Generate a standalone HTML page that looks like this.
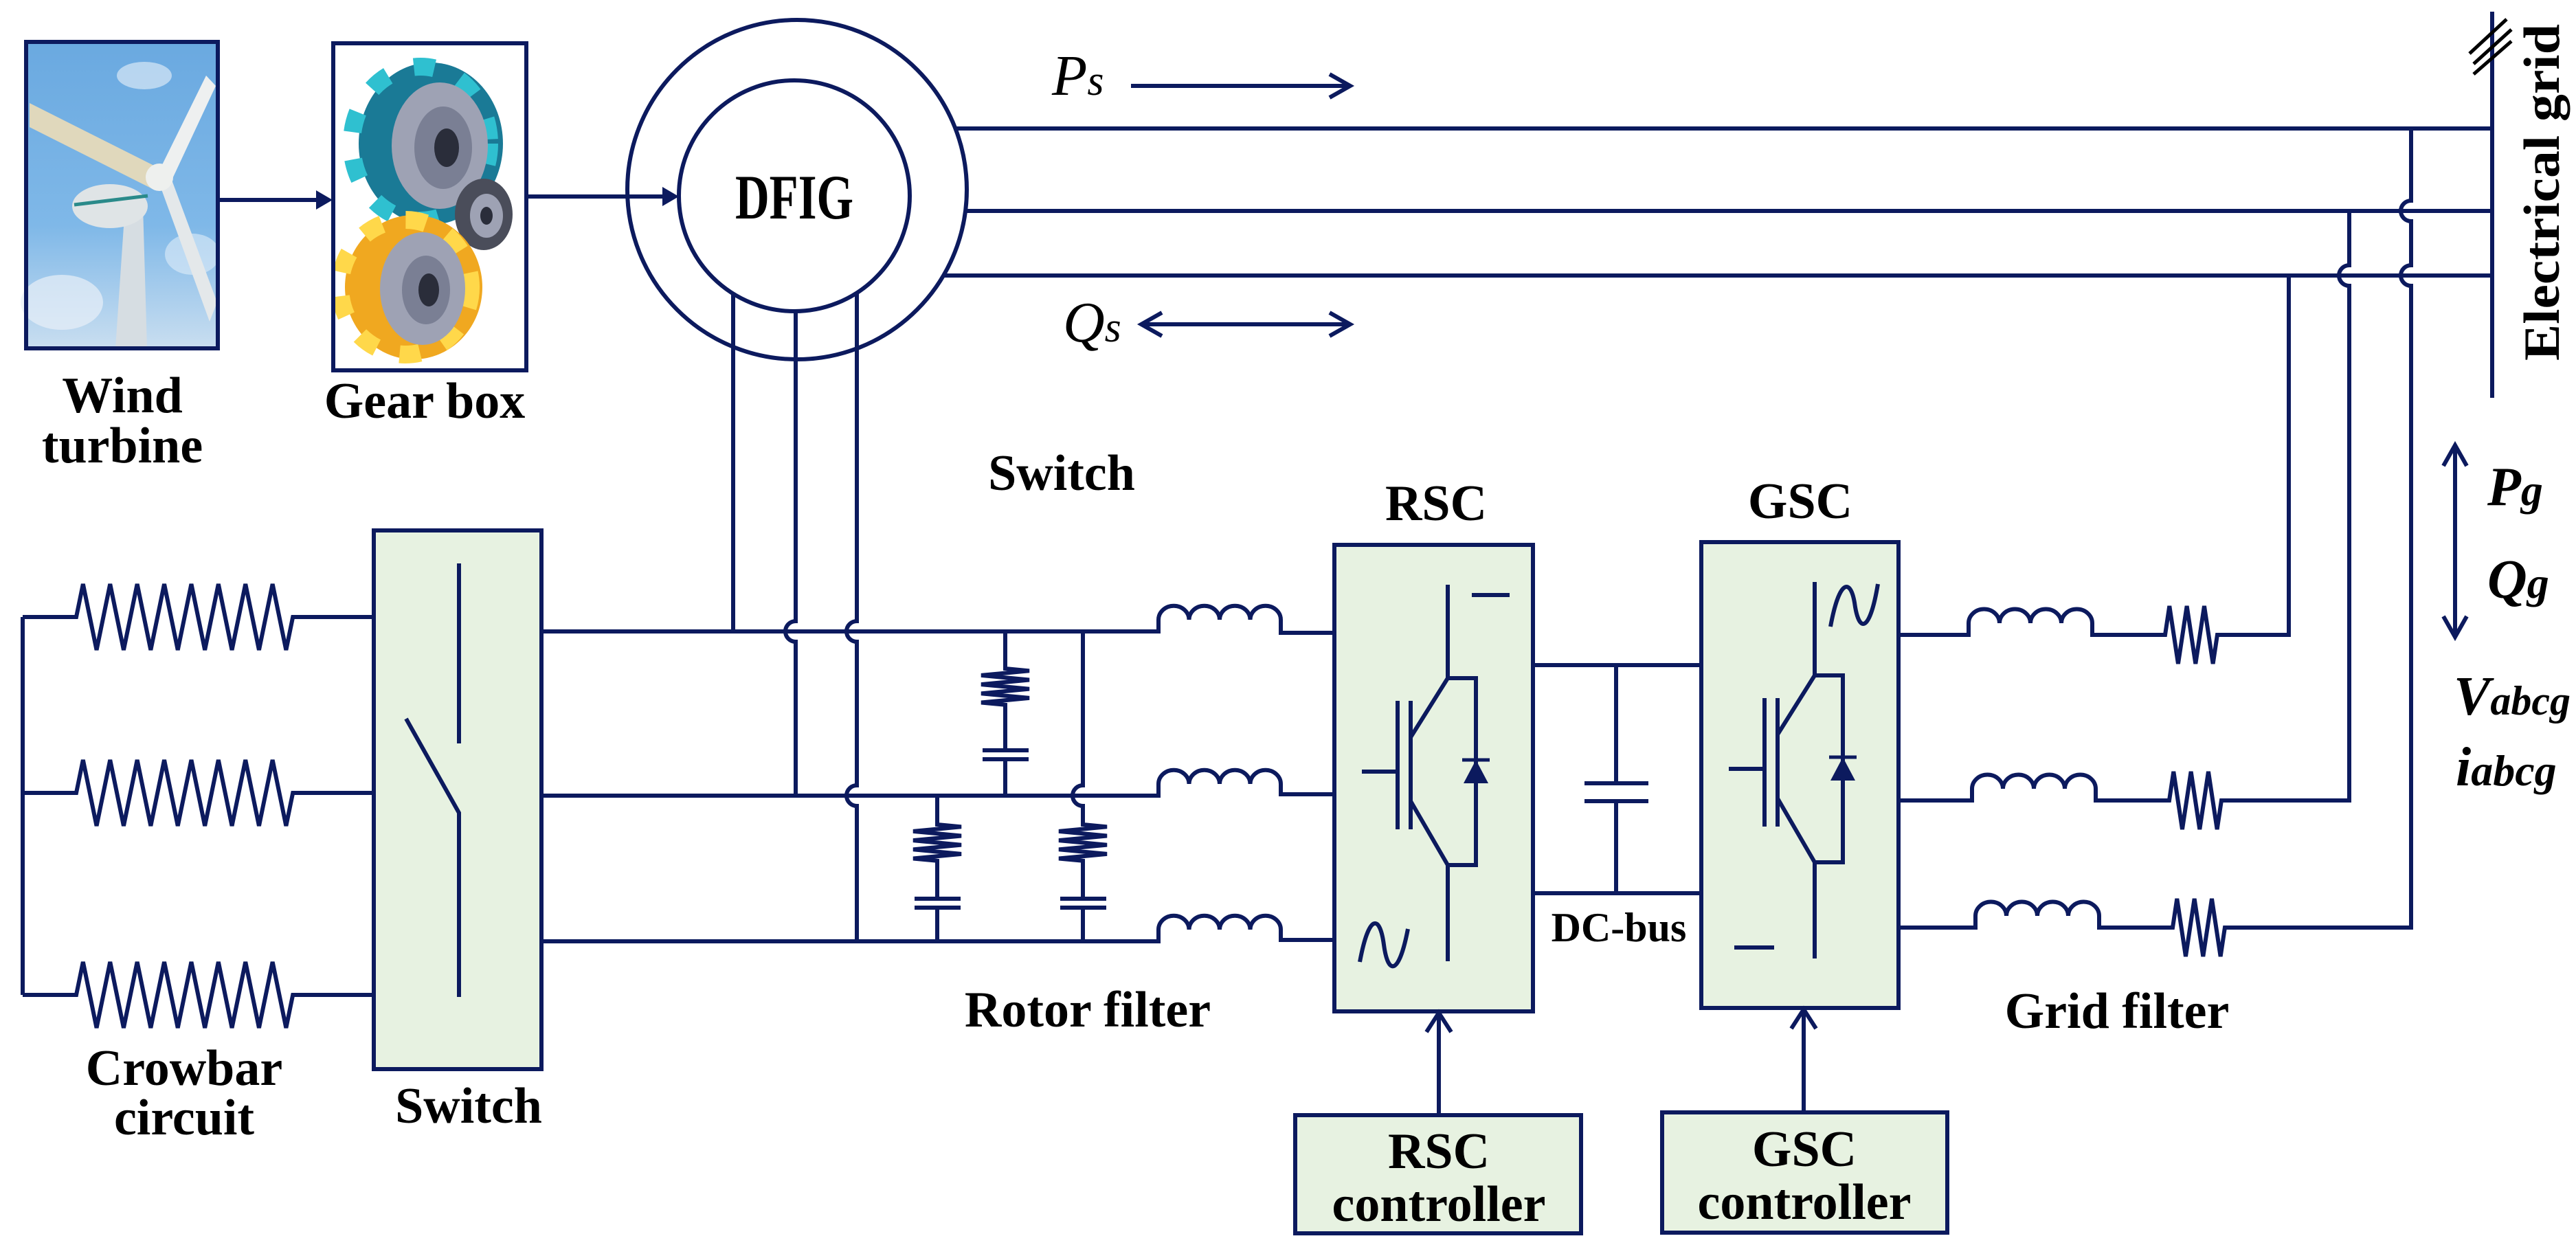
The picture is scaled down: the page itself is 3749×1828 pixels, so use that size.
<!DOCTYPE html>
<html><head><meta charset="utf-8"><style>
html,body{margin:0;padding:0;background:#fff;}
svg{display:block;}
text{font-family:"Liberation Serif",serif;font-weight:bold;fill:#000;}
</style></head><body>
<svg width="3749" height="1828" viewBox="0 0 3749 1828" xmlns="http://www.w3.org/2000/svg">
<defs>
<linearGradient id="sky" x1="0" y1="0" x2="0" y2="1">
<stop offset="0" stop-color="#6aa9e0"/><stop offset="0.6" stop-color="#7fb8e8"/><stop offset="1" stop-color="#c9def0"/>
</linearGradient>
</defs>
<g fill="none" stroke="#0c1a5e" stroke-width="6">

<!-- wind turbine picture -->
<rect x="38" y="61" width="279" height="446" fill="url(#sky)"/>
<g stroke="none">
<ellipse cx="210" cy="110" rx="40" ry="20" fill="#d8e8f6" opacity="0.7"/>
<ellipse cx="90" cy="440" rx="60" ry="40" fill="#e8f0f8" opacity="0.7"/>
<ellipse cx="280" cy="370" rx="40" ry="30" fill="#e0ecf8" opacity="0.6"/>
<polygon points="168,507 214,507 208,300 182,300" fill="#d6dde2"/>
<polygon points="43,150 43,185 222,275 238,248" fill="#e0d8bc"/>
<polygon points="300,110 314,125 250,262 230,252" fill="#eef0f0"/>
<polygon points="230,262 250,262 316,440 305,468" fill="#e4e8ea"/>
<ellipse cx="160" cy="300" rx="55" ry="32" fill="#dfe4e6"/>
<line x1="108" y1="298" x2="215" y2="285" stroke="#2a8a8a" stroke-width="5"/>
<circle cx="232" cy="258" r="20" fill="#eef0ee"/>
</g>
<rect x="38" y="61" width="279" height="446"/>

<!-- gear box picture -->
<rect x="485" y="63" width="281" height="476" fill="#fff"/>
<g stroke="none">
<ellipse cx="627" cy="209" rx="105" ry="118" fill="#1a7a96"/>
<ellipse cx="612" cy="209" rx="100" ry="112" fill="none" stroke="#2fc0d0" stroke-width="26" stroke-dasharray="30 40"/>
<ellipse cx="640" cy="212" rx="70" ry="92" fill="#9ea2b4"/>
<ellipse cx="645" cy="215" rx="42" ry="60" fill="#7a7f94"/>
<ellipse cx="650" cy="215" rx="18" ry="28" fill="#2a2d3a"/>
<ellipse cx="704" cy="312" rx="42" ry="52" fill="#4a4d5a"/>
<ellipse cx="708" cy="314" rx="24" ry="32" fill="#9ea2b4"/>
<ellipse cx="708" cy="314" rx="9" ry="13" fill="#2a2d3a"/>
<ellipse cx="602" cy="418" rx="100" ry="105" fill="#f0a820"/>
<ellipse cx="590" cy="418" rx="95" ry="98" fill="none" stroke="#ffd84a" stroke-width="26" stroke-dasharray="30 35"/>
<ellipse cx="615" cy="420" rx="62" ry="82" fill="#9ea2b4"/>
<ellipse cx="620" cy="422" rx="35" ry="50" fill="#7a7f94"/>
<ellipse cx="624" cy="422" rx="15" ry="24" fill="#2a2d3a"/>
</g>
<rect x="485" y="63" width="281" height="476"/>

<!-- arrows to gear and dfig -->
<line x1="317" y1="291" x2="462" y2="291"/>
<polygon points="484,291 460,277 460,305" fill="#0c1a5e" stroke="none"/>
<line x1="766" y1="286" x2="965" y2="286"/>
<polygon points="988,286 964,272 964,300" fill="#0c1a5e" stroke="none"/>

<!-- DFIG -->
<circle cx="1160" cy="276" r="247"/>
<circle cx="1156" cy="285" r="168" fill="#fff"/>

<!-- stator lines -->
<path d="M1391,187 H3627 M1405,307 H3627 M1374,401 H3627"/>
<path d="M3627,17 V579"/>
<g stroke="#000" stroke-width="5">
<line x1="3594" y1="78" x2="3648" y2="28"/>
<line x1="3600" y1="93" x2="3655" y2="43"/>
<line x1="3600" y1="108" x2="3655" y2="60"/>
</g>

<!-- Ps / Qs arrows -->
<line x1="1646" y1="125" x2="1963" y2="125"/>
<path d="M1935,108 L1965,125 L1935,142"/>
<line x1="1663" y1="472" x2="1963" y2="472"/>
<path d="M1935,455 L1965,472 L1935,489"/>
<path d="M1691,455 L1661,472 L1691,489"/>

<!-- rotor verticals -->
<path d="M1067,427 V919"/>
<path d="M1158,453 V904 a15,15 0 0 0 0,30 V1158"/>
<path d="M1247,426 V904 a15,15 0 0 0 0,30 V1143 a15,15 0 0 0 0,30 V1370"/>

<!-- rotor rows -->
<path d="M788,919 H1686 V902 a22,20 0 0 1 44.5,0 a22,20 0 0 1 44.5,0 a22,20 0 0 1 44.5,0 a22,20 0 0 1 44.5,0 V921 H1942"/>
<path d="M788,1158 H1686 V1141 a22,20 0 0 1 44.5,0 a22,20 0 0 1 44.5,0 a22,20 0 0 1 44.5,0 a22,20 0 0 1 44.5,0 V1156 H1942"/>
<path d="M788,1370 H1686 V1353 a22,20 0 0 1 44.5,0 a22,20 0 0 1 44.5,0 a22,20 0 0 1 44.5,0 a22,20 0 0 1 44.5,0 V1368 H1942"/>

<!-- rotor RC branches -->
<path d="M1463,919 V973 l35,3.3 l-70,6.6 l70,6.6 l-70,6.6 l70,6.6 l-70,6.6 l70,6.6 l-70,6.6 l35,3.3 V1092"/>
<path d="M1430,1092 H1497 M1430,1105 H1497 M1463,1105 V1158"/>
<path d="M1364,1158 V1200 l35,3.3 l-70,6.6 l70,6.6 l-70,6.6 l70,6.6 l-70,6.6 l70,6.6 l-70,6.6 l35,3.3 V1308"/>
<path d="M1331,1308 H1398 M1331,1321 H1398 M1364,1321 V1370"/>
<path d="M1576,919 V1143 a15,15 0 0 0 0,30 V1200 l35,3.3 l-70,6.6 l70,6.6 l-70,6.6 l70,6.6 l-70,6.6 l70,6.6 l-70,6.6 l35,3.3 V1308"/>
<path d="M1543,1308 H1610 M1543,1321 H1610 M1576,1321 V1370"/>

<!-- crowbar -->
<path d="M33,898 V1448"/>
<path d="M33,898 H111 l9.85,-48 l19.7,96 l19.7,-96 l19.7,96 l19.7,-96 l19.7,96 l19.7,-96 l19.7,96 l19.7,-96 l19.7,96 l19.7,-96 l19.7,96 l19.7,-96 l19.7,96 l19.7,-96 l19.7,96 l9.85,-48 H544"/>
<path d="M33,1154 H111 l9.85,-48 l19.7,96 l19.7,-96 l19.7,96 l19.7,-96 l19.7,96 l19.7,-96 l19.7,96 l19.7,-96 l19.7,96 l19.7,-96 l19.7,96 l19.7,-96 l19.7,96 l19.7,-96 l19.7,96 l9.85,-48 H544"/>
<path d="M33,1448 H111 l9.85,-48 l19.7,96 l19.7,-96 l19.7,96 l19.7,-96 l19.7,96 l19.7,-96 l19.7,96 l19.7,-96 l19.7,96 l19.7,-96 l19.7,96 l19.7,-96 l19.7,96 l19.7,-96 l19.7,96 l9.85,-48 H544"/>

<!-- switch box -->
<rect x="544" y="772" width="244" height="784" fill="#e7f2e1"/>
<path d="M668,820 V1082 M591,1046 L668,1183 V1451"/>

<!-- RSC -->
<rect x="1942" y="793" width="289" height="679" fill="#e7f2e1"/>
<g id="igbt">
<path d="M2107,851 V987 L2053,1073 M2053,1020 V1207 M2034,1020 V1207 M1982,1123 H2034 M2053,1166 L2107,1259 V1399 M2107,987 H2148 V1259 H2107"/>
<polygon points="2148,1106 2130,1140 2166,1140" fill="#0c1a5e" stroke="none"/>
<path d="M2128,1106 H2168" stroke-width="5"/>
</g>
<path d="M2142,866 H2197"/>
<path d="M1979,1400 C1992,1330 2008,1330 2014,1375 C2020,1420 2036,1420 2049,1352"/>

<!-- GSC -->
<rect x="2476" y="789" width="287" height="678" fill="#e7f2e1"/>
<use href="#igbt" transform="translate(534,-4)"/>
<path d="M2524,1379 H2582"/>
<path d="M2664,912 C2677,842 2693,842 2699,877 C2705,922 2721,922 2733,850"/>

<!-- DC bus -->
<path d="M2231,968 H2476 M2231,1300 H2476 M2352,968 V1140 M2352,1166 V1300 M2306,1140 H2399 M2306,1166 H2399"/>

<!-- grid filter rows -->
<path d="M2763,924 H2865 V907 a22,20 0 0 1 45,0 a22,20 0 0 1 45,0 a22,20 0 0 1 45,0 a22,20 0 0 1 45,0 V924 H3151 l6.3,-42 l12.67,84 l12.67,-84 l12.67,84 l12.67,-84 l12.67,84 l6.3,-42 H3331 V401"/>
<path d="M2763,1165 H2870 V1148 a22,20 0 0 1 45,0 a22,20 0 0 1 45,0 a22,20 0 0 1 45,0 a22,20 0 0 1 45,0 V1165 H3157 l6.3,-42 l12.67,84 l12.67,-84 l12.67,84 l12.67,-84 l12.67,84 l6.3,-42 H3419 V416 a15,15 0 0 1 0,-30 V307"/>
<path d="M2763,1350 H2875 V1333 a22,20 0 0 1 45,0 a22,20 0 0 1 45,0 a22,20 0 0 1 45,0 a22,20 0 0 1 45,0 V1350 H3162 l6.3,-42 l12.67,84 l12.67,-84 l12.67,84 l12.67,-84 l12.67,84 l6.3,-42 H3509 V416 a15,15 0 0 1 0,-30 V322 a15,15 0 0 1 0,-30 V187"/>

<!-- controllers -->
<rect x="1885" y="1623" width="416" height="172" fill="#e7f2e1"/>
<rect x="2419" y="1619" width="415" height="175" fill="#e7f2e1"/>
<path d="M2094,1623 V1476 M2076,1502 L2094,1474 L2112,1502"/>
<path d="M2625,1619 V1471 M2607,1497 L2625,1469 L2643,1497"/>

<!-- Pg Qg arrow -->
<path d="M3573,650 V925 M3556,678 L3573,648 L3590,678 M3556,897 L3573,927 L3590,897"/>
</g>

<!-- texts -->
<text x="1156" y="318" font-size="92" text-anchor="middle" textLength="172" lengthAdjust="spacingAndGlyphs">DFIG</text>
<text x="178" y="600" font-size="74" text-anchor="middle">Wind</text>
<text x="178" y="673" font-size="74" text-anchor="middle">turbine</text>
<text x="618" y="608" font-size="74" text-anchor="middle">Gear box</text>
<text x="1545" y="713" font-size="74" text-anchor="middle">Switch</text>
<text x="268" y="1579" font-size="74" text-anchor="middle">Crowbar</text>
<text x="268" y="1651" font-size="74" text-anchor="middle">circuit</text>
<text x="682" y="1634" font-size="74" text-anchor="middle">Switch</text>
<text x="1583" y="1494" font-size="74" text-anchor="middle">Rotor filter</text>
<text x="2090" y="757" font-size="74" text-anchor="middle">RSC</text>
<text x="2620" y="754" font-size="74" text-anchor="middle">GSC</text>
<text x="2356" y="1370" font-size="60" text-anchor="middle">DC-bus</text>
<text x="3081" y="1496" font-size="74" text-anchor="middle">Grid filter</text>
<text x="2094" y="1700" font-size="74" text-anchor="middle">RSC</text>
<text x="2094" y="1777" font-size="74" text-anchor="middle">controller</text>
<text x="2626" y="1697" font-size="74" text-anchor="middle">GSC</text>
<text x="2626" y="1774" font-size="74" text-anchor="middle">controller</text>
<text transform="translate(3724,280) rotate(-90)" font-size="74" text-anchor="middle" textLength="490" lengthAdjust="spacingAndGlyphs">Electrical grid</text>
<text x="1531" y="138" font-size="84" font-style="italic" style="font-weight:normal">P<tspan font-size="62">s</tspan></text>
<text x="1547" y="497" font-size="84" font-style="italic" style="font-weight:normal">Q<tspan font-size="62">s</tspan></text>
<text x="3620" y="735" font-size="80" font-style="italic">P<tspan font-size="64">g</tspan></text>
<text x="3620" y="870" font-size="80" font-style="italic">Q<tspan font-size="64">g</tspan></text>
<text x="3571" y="1040" font-size="80" font-style="italic">V<tspan font-size="60">abcg</tspan></text>
<text x="3574" y="1143" font-size="80" font-style="italic">i<tspan font-size="64">abcg</tspan></text>
</svg>
</body></html>
